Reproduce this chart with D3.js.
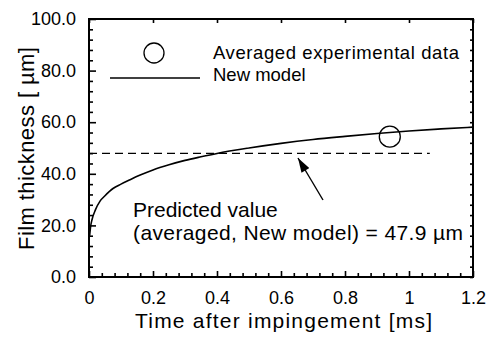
<!DOCTYPE html>
<html>
<head>
<meta charset="utf-8">
<script src="https://cdn.jsdelivr.net/npm/d3@7"></script>
<style>
  body { margin: 0; background: #fff; }
  svg text { font-family: "Liberation Sans", Arial, Helvetica, sans-serif; fill: #000; }
</style>
</head>
<body>
<div id="chart"></div>
<script>
// model curve (time ms, thickness um)
var modelT = [0.002, 0.005, 0.01, 0.02, 0.035, 0.05, 0.075, 0.1, 0.13, 0.16, 0.2, 0.25, 0.3, 0.35, 0.4, 0.5, 0.6, 0.7, 0.8, 0.9, 1.0, 1.1, 1.2];
var modelH = [16, 19.5, 22.5, 26, 29.5, 31.5, 34.3, 36, 37.8, 39.5, 41.5, 43.5, 45.2, 46.6, 47.9, 50, 51.8, 53.3, 54.5, 55.6, 56.6, 57.4, 58.1];
// averaged experiment
var expT = [0.94];
var expH = [54.4];
// predicted average line
var predT = [0, 1.065];
var predH = [47.9, 47.9];

var xTicks = [0, 0.2, 0.4, 0.6, 0.8, 1.0, 1.2];
var xTickLabels = ["0", "0.2", "0.4", "0.6", "0.8", "1", "1.2"];
var yTicks = [0, 20, 40, 60, 80, 100];
var yTickLabels = ["0.0", "20.0", "40.0", "60.0", "80.0", "100.0"];

var W = 490, H = 337;
var L = 89, R = 473, T = 19, B = 277;

var svg = d3.select("#chart").append("svg").attr("width", W).attr("height", H);

var x = d3.scaleLinear().domain([0, 1.2]).range([L, R]);
var y = d3.scaleLinear().domain([0, 100]).range([B, T]);

var xMinor = d3.range(0, 1.2001, 0.04).filter(function(v){ return Math.abs(v/0.2 - Math.round(v/0.2)) > 1e-6; });
var yMinor = d3.range(0, 100.001, 4).filter(function(v){ return v % 20 != 0; });

function styleAxis(g, fs) {
  g.select(".domain").remove();
  g.selectAll("line").attr("stroke", "#000").attr("stroke-width", 1.6);
  g.selectAll("text").attr("font-size", fs);
}

// bottom
svg.append("g").attr("transform", "translate(0," + B + ")")
  .call(d3.axisBottom(x).tickValues(xTicks).tickSize(-6).tickPadding(14)
    .tickFormat(function(d, i){ return xTickLabels[i]; }))
  .call(styleAxis, "18px");
svg.append("g").attr("transform", "translate(0," + B + ")")
  .call(d3.axisBottom(x).tickValues(xMinor).tickSize(-4).tickFormat(""))
  .call(styleAxis, "18px");
// top
svg.append("g").attr("transform", "translate(0," + T + ")")
  .call(d3.axisTop(x).tickValues(xTicks).tickSize(-4).tickFormat(""))
  .call(styleAxis, "18px");
// left
svg.append("g").attr("transform", "translate(" + L + ",0)")
  .call(d3.axisLeft(y).tickValues(yTicks).tickSize(-7).tickPadding(13)
    .tickFormat(function(d, i){ return yTickLabels[i]; }))
  .call(styleAxis, "18px");
svg.append("g").attr("transform", "translate(" + L + ",0)")
  .call(d3.axisLeft(y).tickValues(yMinor).tickSize(-4).tickFormat(""))
  .call(styleAxis, "18px");
// right
svg.append("g").attr("transform", "translate(" + R + ",0)")
  .call(d3.axisRight(y).tickValues(yTicks.concat(yMinor)).tickSize(-3).tickFormat(""))
  .call(styleAxis, "18px");

// frame
svg.append("rect").attr("x", L).attr("y", T).attr("width", R - L).attr("height", B - T)
  .attr("fill", "none").attr("stroke", "#000").attr("stroke-width", 2);

// predicted dashed line
svg.append("path")
  .datum(predT.map(function(t, i){ return [t, predH[i]]; }))
  .attr("d", d3.line().x(function(d){ return x(d[0]); }).y(function(d){ return y(d[1]); }))
  .attr("fill", "none").attr("stroke", "#000").attr("stroke-width", 1.4)
  .attr("stroke-dasharray", "8,5");

// model curve
svg.append("path")
  .datum(modelT.map(function(t, i){ return [t, modelH[i]]; }))
  .attr("d", d3.line().curve(d3.curveMonotoneX).x(function(d){ return x(d[0]); }).y(function(d){ return y(d[1]); }))
  .attr("fill", "none").attr("stroke", "#000").attr("stroke-width", 1.6);

// experiment
svg.selectAll("circle.exp").data(expT).enter().append("circle").attr("class", "exp")
  .attr("cx", function(d){ return x(d); }).attr("cy", function(d, i){ return y(expH[i]); })
  .attr("r", 10.5).attr("fill", "none").attr("stroke", "#000").attr("stroke-width", 1.3);

// legend
svg.append("circle").attr("cx", 154).attr("cy", 53).attr("r", 10).attr("fill", "none").attr("stroke", "#000").attr("stroke-width", 1.3);
svg.append("text").attr("x", 213).attr("y", 59).attr("font-size", "18.5px")
  .attr("textLength", 246).attr("lengthAdjust", "spacing").text("Averaged experimental data");
svg.append("line").attr("x1", 110).attr("x2", 200).attr("y1", 78).attr("y2", 78).attr("stroke", "#000").attr("stroke-width", 1.3);
svg.append("text").attr("x", 213).attr("y", 81).attr("font-size", "18.5px").text("New model");

// annotation + arrow
svg.append("defs").append("marker").attr("id", "ah").attr("viewBox", "0 0 16 10")
  .attr("refX", 16).attr("refY", 5).attr("markerWidth", 16).attr("markerHeight", 9)
  .attr("markerUnits", "userSpaceOnUse").attr("orient", "auto")
  .append("path").attr("d", "M0,0 L16,5 L0,10 z").attr("fill", "#000");
svg.append("line").attr("x1", 323).attr("y1", 200).attr("x2", 298).attr("y2", 158)
  .attr("stroke", "#000").attr("stroke-width", 1.4).attr("marker-end", "url(#ah)");
svg.append("text").attr("x", 133).attr("y", 217).attr("font-size", "21px").text("Predicted value");
svg.append("text").attr("x", 133).attr("y", 240).attr("font-size", "21px")
  .attr("textLength", 330).attr("lengthAdjust", "spacing")
  .text("(averaged, New model) = 47.9 \u00b5m");

// axis titles
svg.append("text").attr("x", (135 + 432) / 2).attr("y", 328).attr("text-anchor", "middle")
  .attr("font-size", "21px").attr("textLength", 297).attr("lengthAdjust", "spacing")
  .text("Time after impingement [ms]");
svg.append("text").attr("transform", "translate(34," + ((47 + 250) / 2) + ") rotate(-90)")
  .attr("text-anchor", "middle").attr("font-size", "22px")
  .attr("textLength", 203).attr("lengthAdjust", "spacing")
  .text("Film thickness [ \u00b5m]");
</script>
</body>
</html>
